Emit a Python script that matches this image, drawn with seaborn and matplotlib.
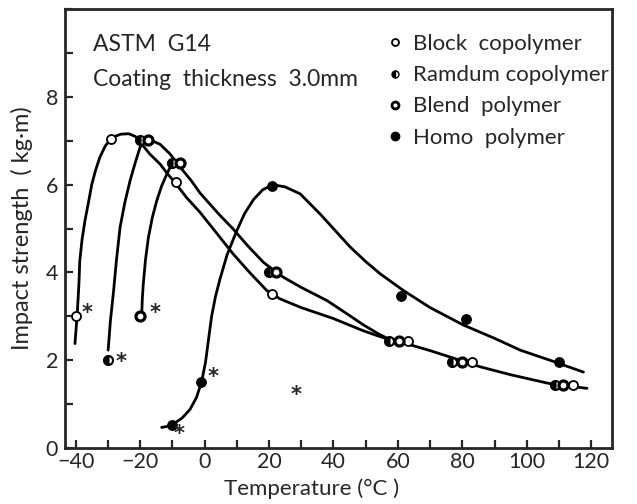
import numpy as np
import matplotlib
matplotlib.use("Agg")
import matplotlib.pyplot as plt
from matplotlib.lines import Line2D
from matplotlib.ticker import MultipleLocator
import seaborn as sns

sns.set_style("ticks")
plt.rcParams['font.family'] = ['Lato', 'DejaVu Sans']

# measured points (temperature degC, impact strength kg.m)
block_t = [-40, -29, -9, 21, 63.3, 83, 114.2]
block_i = [3.0, 7.05, 6.05, 3.5, 2.45, 1.97, 1.43]
random_t = [-30, -20, -10, 20, 57.1, 76.8, 108.9]
random_i = [2.0, 7.02, 6.5, 4.02, 2.45, 1.97, 1.43]
blend_t = [-20, -17.5, -7.5, 22.2, 60.2, 79.9, 111.4]
blend_i = [3.0, 7.02, 6.5, 4.02, 2.45, 1.97, 1.43]
homo_t = [-10, -1, 21, 61, 81, 110]
homo_i = [0.52, 1.5, 5.98, 3.47, 2.93, 1.95]

# traced fitting curves
block_curve_t = [-40.2, -39.5, -39, -38.7, -38, -37.1, -36, -35, -33.8, -32.5, -30.8,
                 -28.8, -26, -23.5, -21.5, -20, -17, -13.8, -11.5, -9.2, -5.5, -1.4,
                 4.8, 8.9, 14, 19.3, 23.4, 30, 40, 49, 54, 57.5, 59.2, 63, 70, 79.3,
                 85.6, 95, 107, 111.4, 118.7]
block_curve_i = [2.38, 3.05, 3.7, 4.27, 4.75, 5.18, 5.6, 6.0, 6.33, 6.62, 6.88,
                 7.07, 7.15, 7.16, 7.1, 6.97, 6.7, 6.47, 6.25, 6.05, 5.7, 5.37,
                 4.8, 4.42, 4.0, 3.59, 3.40, 3.2, 2.95, 2.68, 2.55, 2.47, 2.44, 2.37, 2.22, 2.0,
                 1.85, 1.67, 1.47, 1.43, 1.36]
random_curve_t = [-29.9, -29.2, -28.3, -27.3, -26.2, -24.7, -23.1, -21.5, -20, -18.7,
                  -17.5, -13.8, -10.7, -7.1, -4, -1.4, 4.8, 8.9, 13.5, 18.3, 22, 24.5,
                  30, 38, 45, 49, 54, 57.5]
random_curve_i = [2.23, 2.9, 3.52, 4.3, 5.03, 5.6, 6.09, 6.5, 6.85, 7.0,
                  7.04, 6.92, 6.7, 6.36, 6.08, 5.81, 5.3, 4.99, 4.6, 4.23, 4.02, 3.89,
                  3.66, 3.36, 3.02, 2.82, 2.6, 2.47]
blend_curve_t = [-19.5, -19.3, -19, -18.3, -17.4, -16.2, -14.8, -13.3, -11.7, -10]
blend_curve_i = [3.02, 3.4, 3.74, 4.3, 4.8, 5.25, 5.64, 5.97, 6.24, 6.5]
homo_curve_t = [-13.3, -11, -9.7, -7, -4.5, -2.5, -0.9, 0.3, 1.2, 2.2, 3.4, 4.8, 7, 10,
                12.5, 15.2, 18, 21.1, 25, 29.7, 35.9, 40, 45.2, 50, 54.5, 61.7, 70, 80.4,
                90, 98, 108, 117.6]
homo_curve_i = [0.47, 0.5, 0.55, 0.68, 0.88, 1.15, 1.51, 1.95, 2.45, 3.0, 3.45, 3.85,
                4.4, 4.95, 5.35, 5.66, 5.88, 6.0, 5.95, 5.79, 5.33, 5.0, 4.58, 4.25,
                3.97, 3.59, 3.2, 2.8, 2.5, 2.23, 1.98, 1.73]

# asterisks (brittle fracture)
star_t = [-36.6, -26, -15.4, 2.5, -7.8, 28.4]
star_i = [3.08, 1.96, 3.08, 1.61, 0.32, 1.2]

fig = plt.figure(figsize=(6.37, 5.04), dpi=100)
ax = fig.add_axes([0.102, 0.111, 0.859, 0.871])

for ct, ci in [(block_curve_t, block_curve_i), (random_curve_t, random_curve_i),
               (blend_curve_t, blend_curve_i), (homo_curve_t, homo_curve_i)]:
    sns.lineplot(x=ct, y=ci, ax=ax, color='black', lw=2.0, sort=False, estimator=None)

sty = dict(color='black', linestyle='none', marker='o', sort=False, estimator=None)
sns.lineplot(x=block_t, y=block_i, ax=ax, markersize=6.5, markerfacecolor='white',
             markeredgecolor='black', markeredgewidth=1.3, **sty)
sns.lineplot(x=random_t, y=random_i, ax=ax, markersize=6.5, fillstyle='left',
             markerfacecoloralt='white', markeredgecolor='black', markeredgewidth=1.5, **sty)
sns.lineplot(x=blend_t, y=blend_i, ax=ax, markersize=6.5, markerfacecolor='white',
             markeredgecolor='black', markeredgewidth=2.3, **sty)
sns.lineplot(x=homo_t, y=homo_i, ax=ax, markersize=7, markerfacecolor='black',
             markeredgecolor='black', **sty)

for t, v in zip(star_t, star_i):
    ax.text(t, v, '*', fontsize=15, fontweight='bold', ha='center', va='center',
            family='DejaVu Sans')

ax.set_xlim(-43.3, 126.5)
ax.set_ylim(0, 10)
ax.set_xticks([-40, -20, 0, 20, 40, 60, 80, 100, 120])
ax.set_yticks([0, 2, 4, 6, 8])
ax.xaxis.set_minor_locator(MultipleLocator(10))
ax.yaxis.set_minor_locator(MultipleLocator(1))
ax.tick_params(which='both', direction='in', length=6, width=1.6, labelsize=15.5)
ax.tick_params(axis='x', pad=3)
ax.tick_params(axis='y', pad=5)
for s in ax.spines.values():
    s.set_visible(True)
    s.set_linewidth(2)
ax.set_xlabel('Temperature (°C )', fontsize=16)
ax.set_ylabel('Impact strength  ( kg·m)', fontsize=17)
ax.xaxis.set_label_coords(0.45, -0.068)
ax.yaxis.set_label_coords(-0.058, 0.5)

ax.text(0.052, 0.92, 'ASTM  G14', transform=ax.transAxes, fontsize=16.5, va='center')
ax.text(0.052, 0.84, 'Coating  thickness  3.0mm', transform=ax.transAxes, fontsize=16.5,
        va='center')

handles = [
    Line2D([], [], linestyle='none', marker='o', markersize=5, markerfacecolor='white',
           markeredgecolor='black', markeredgewidth=1.3),
    Line2D([], [], linestyle='none', marker='o', markersize=5, fillstyle='left',
           markerfacecoloralt='white', markerfacecolor='black', markeredgecolor='black'),
    Line2D([], [], linestyle='none', marker='o', markersize=5, markerfacecolor='white',
           markeredgecolor='black', markeredgewidth=2),
    Line2D([], [], linestyle='none', marker='o', markersize=6, markerfacecolor='black',
           markeredgecolor='black'),
]
labels = ['Block  copolymer', 'Ramdum copolymer', 'Blend  polymer', 'Homo  polymer']
ax.legend(handles, labels, loc='upper left', bbox_to_anchor=(0.575, 0.963), frameon=False,
          fontsize=16, handlelength=0.6, handletextpad=0.5, labelspacing=0.5,
          borderaxespad=0)

fig.savefig('out.png', dpi=100)
